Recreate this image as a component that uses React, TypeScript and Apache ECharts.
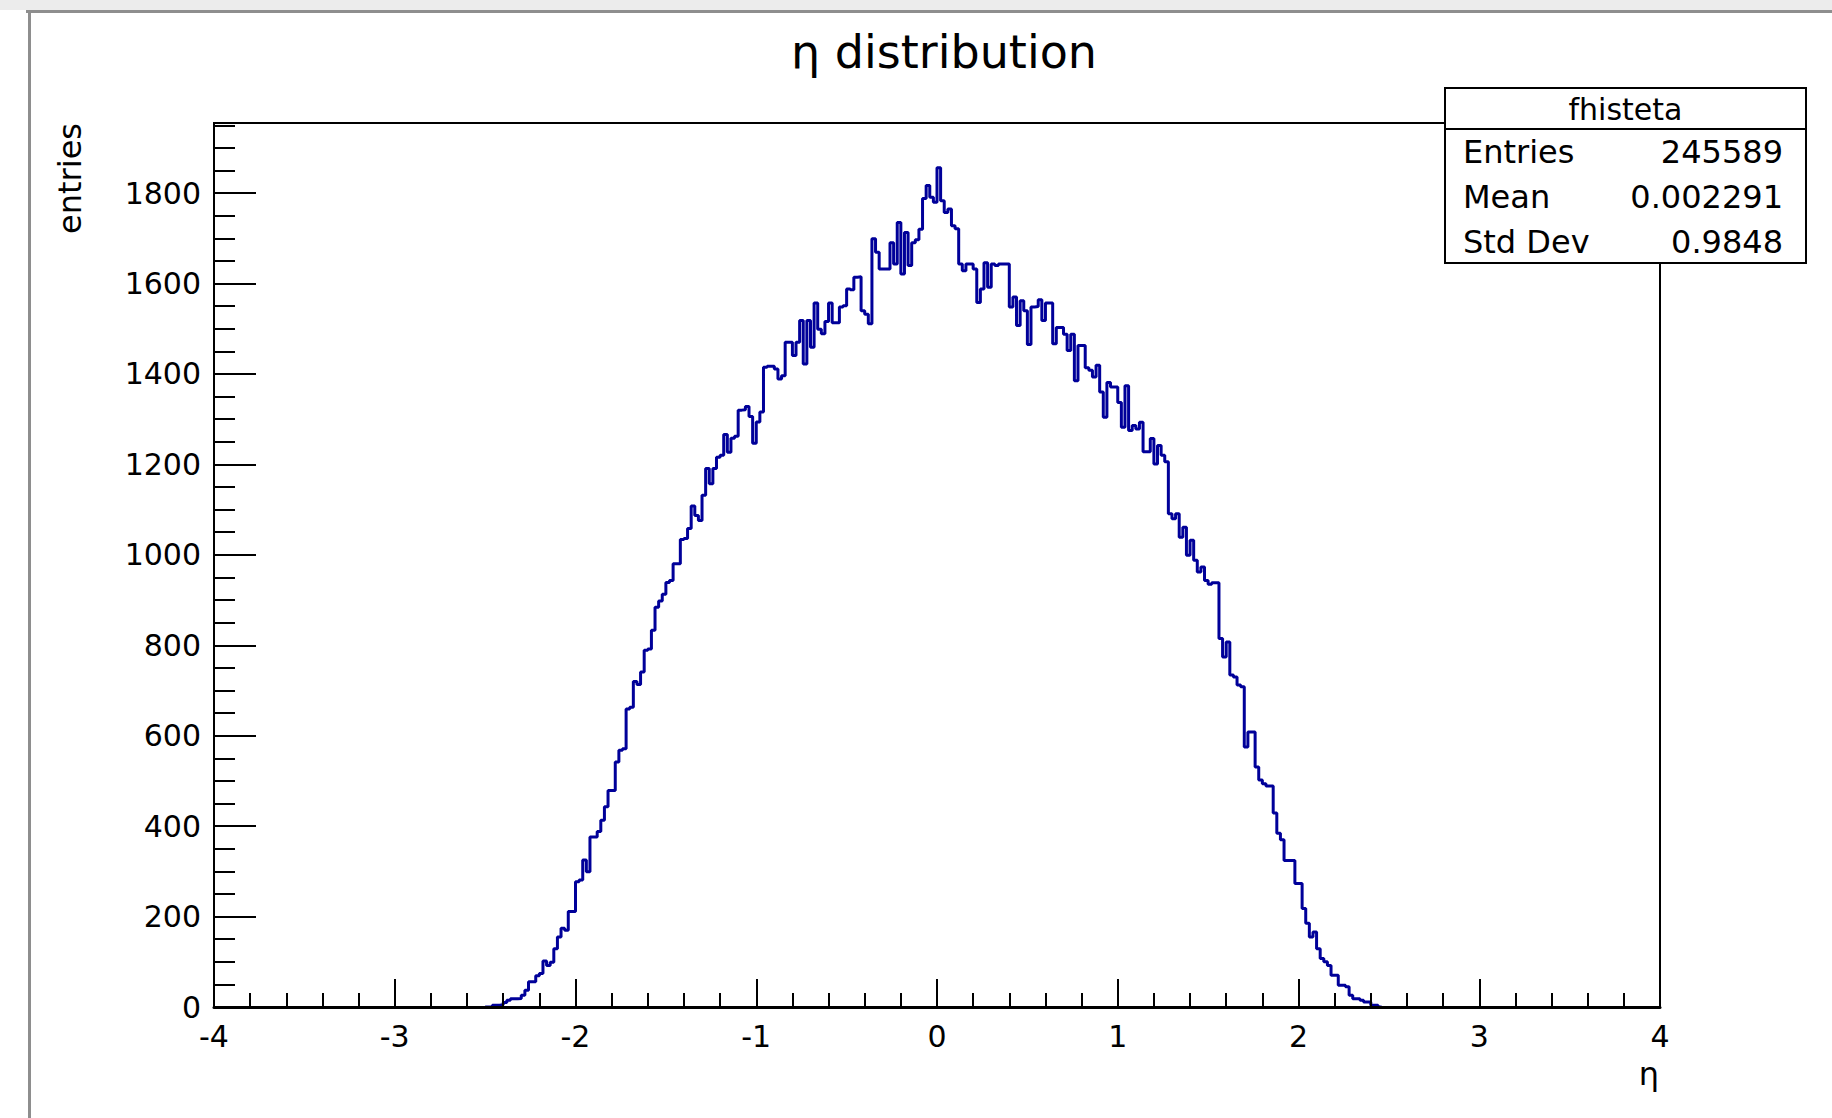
import React, { useEffect, useRef } from "react";
import * as echarts from "echarts";

const TITLE = "η distribution";
const X_TITLE = "η";
const Y_TITLE = "entries";
const HIST_NAME = "fhisteta";
const STATS_LABELS = ["Entries", "Mean", "Std Dev"];
const STATS_VALUES = ["245589", "0.002291", "0.9848"];

const X_MIN = -4;
const X_MAX = 4;
const Y_MAX = 1955;
const BIN_START = -2.5;
const BIN_WIDTH = 0.02;

// bin contents from eta = -2.50 upward, 0.02 per bin
const COUNTS = [
  0, 0, 4, 4, 5, 10, 15, 18, 18, 19,
  26, 37, 56, 56, 69, 74, 102, 92, 99, 129,
  155, 174, 170, 211, 211, 277, 281, 325, 299, 376,
  376, 388, 413, 443, 479, 479, 542, 568, 571, 659,
  663, 720, 713, 741, 789, 792, 833, 884, 898, 913,
  939, 943, 980, 980, 1034, 1036, 1058, 1108, 1087, 1076,
  1132, 1191, 1157, 1191, 1216, 1220, 1266, 1227, 1258, 1262,
  1320, 1321, 1328, 1306, 1247, 1294, 1316, 1415, 1417, 1417,
  1411, 1389, 1396, 1470, 1470, 1441, 1470, 1518, 1422, 1518,
  1459, 1557, 1499, 1489, 1516, 1557, 1513, 1513, 1548, 1551,
  1588, 1586, 1614, 1615, 1540, 1532, 1511, 1699, 1669, 1632,
  1632, 1632, 1690, 1643, 1735, 1621, 1713, 1640, 1690, 1697,
  1720, 1788, 1817, 1791, 1780, 1856, 1783, 1757, 1765, 1728,
  1721, 1643, 1628, 1643, 1643, 1632, 1558, 1588, 1646, 1592,
  1643, 1640, 1643, 1643, 1643, 1548, 1570, 1507, 1562, 1540,
  1465, 1548, 1549, 1564, 1518, 1557, 1557, 1467, 1503, 1503,
  1488, 1452, 1488, 1385, 1463, 1463, 1414, 1408, 1393, 1419,
  1360, 1304, 1381, 1371, 1371, 1337, 1282, 1374, 1275, 1286,
  1278, 1293, 1228, 1228, 1257, 1201, 1242, 1220, 1206, 1091,
  1080, 1091, 1039, 1061, 999, 1032, 988, 962, 973, 943,
  935, 938, 938, 815, 774, 807, 734, 730, 712, 708,
  575, 608, 608, 531, 502, 494, 489, 489, 429, 384,
  370, 324, 324, 324, 273, 273, 218, 185, 155, 166,
  129, 107, 100, 92, 70, 70, 48, 48, 45, 26,
  18, 18, 15, 11, 11, 4, 4, 0,
];

const FONT = "DejaVu Sans";

export default function App() {
  const ref = useRef<HTMLDivElement>(null);

  useEffect(() => {
    document.body.style.margin = "0";
    const chart = echarts.init(ref.current!, null, { renderer: "svg" });

    const data: [number, number][] = COUNTS.map((v, i) => [
      +(BIN_START + i * BIN_WIDTH).toFixed(4),
      v,
    ]);
    data.push([+(BIN_START + COUNTS.length * BIN_WIDTH).toFixed(4), 0]);

    const statsX = 1445;
    const statsY = 88;
    const statsW = 361;
    const statsH = 175;
    const rowYs = [152, 197, 242];

    const graphics: any[] = [
      { type: "rect", z: 1, shape: { x: 0, y: 0, width: 1832, height: 10 }, style: { fill: "#ececec" } },
      { type: "rect", z: 1, shape: { x: 26, y: 10, width: 1806, height: 3 }, style: { fill: "#8e8e8e" } },
      { type: "rect", z: 1, shape: { x: 28, y: 10, width: 3, height: 1108 }, style: { fill: "#8e8e8e" } },
      {
        type: "text",
        z: 100,
        x: 944,
        y: 52,
        style: { text: TITLE, font: `46px "${FONT}"`, fill: "#000", align: "center", verticalAlign: "middle" },
      },
      {
        type: "text",
        z: 100,
        x: 70,
        y: 123,
        rotation: Math.PI / 2,
        style: { text: Y_TITLE, font: `32px "${FONT}"`, fill: "#000", align: "right", verticalAlign: "middle" },
      },
      {
        type: "text",
        z: 100,
        x: 1659,
        y: 1074,
        style: { text: X_TITLE, font: `32px "${FONT}"`, fill: "#000", align: "right", verticalAlign: "middle" },
      },
      {
        type: "rect",
        z: 100,
        shape: { x: statsX, y: statsY, width: statsW, height: statsH },
        style: { fill: "#fff", stroke: "#000", lineWidth: 2 },
      },
      {
        type: "line",
        z: 101,
        shape: { x1: statsX, y1: 129, x2: statsX + statsW, y2: 129 },
        style: { stroke: "#000", lineWidth: 2 },
      },
      {
        type: "text",
        z: 101,
        x: statsX + statsW / 2,
        y: 109,
        style: { text: HIST_NAME, font: `30px "${FONT}"`, fill: "#000", align: "center", verticalAlign: "middle" },
      },
    ];
    STATS_LABELS.forEach((lab, i) => {
      graphics.push({
        type: "text",
        z: 101,
        x: 1463,
        y: rowYs[i],
        style: { text: lab, font: `32px "${FONT}"`, fill: "#000", align: "left", verticalAlign: "middle" },
      });
      graphics.push({
        type: "text",
        z: 101,
        x: 1783,
        y: rowYs[i],
        style: { text: STATS_VALUES[i], font: `32px "${FONT}"`, fill: "#000", align: "right", verticalAlign: "middle" },
      });
    });

    const tickStyle = { color: "#000", width: 2 };

    chart.setOption({
      animation: false,
      backgroundColor: "#fff",
      grid: {
        left: 214,
        top: 123,
        width: 1446,
        height: 884,
        show: true,
        borderColor: "#000",
        borderWidth: 2,
        backgroundColor: "transparent",
      },
      xAxis: {
        type: "value",
        min: X_MIN,
        max: X_MAX,
        interval: 1,
        position: "bottom",
        z: 5,
        axisLine: { show: true, onZero: false, lineStyle: { color: "#000", width: 3 } },
        axisTick: { show: true, inside: true, length: 28, lineStyle: tickStyle },
        minorTick: { show: true, splitNumber: 5, length: 14, lineStyle: tickStyle },
        splitLine: { show: false },
        minorSplitLine: { show: false },
        axisLabel: { margin: 14, fontSize: 30, fontFamily: FONT, color: "#000" },
      },
      yAxis: [
        {
          type: "value",
          min: 0,
          max: Y_MAX,
          interval: 200,
          position: "left",
          z: 5,
          axisLine: { show: true, onZero: false, lineStyle: { color: "#000", width: 2 } },
          axisTick: { show: true, inside: true, length: 42, lineStyle: tickStyle },
          splitLine: { show: false },
          axisLabel: {
            margin: 13,
            fontSize: 30,
            fontFamily: FONT,
            color: "#000",
            formatter: (v: number) => (v % 200 === 0 ? String(v) : ""),
          },
        },
        {
          type: "value",
          min: 0,
          max: Y_MAX,
          interval: 50,
          position: "left",
          offset: 0,
          z: 5,
          axisLine: { show: false, onZero: false },
          axisTick: { show: true, inside: true, length: 21, lineStyle: tickStyle },
          splitLine: { show: false },
          axisLabel: { show: false },
        },
      ],
      series: [
        {
          type: "line",
          name: HIST_NAME,
          step: "end",
          data,
          yAxisIndex: 0,
          showSymbol: false,
          symbol: "none",
          lineStyle: { color: "#000099", width: 3 },
          z: 3,
        },
      ],
      graphic: graphics,
    });

    return () => chart.dispose();
  }, []);

  return (
    <div
      ref={ref}
      style={{ position: "absolute", left: 0, top: 0, width: 1832, height: 1118, background: "#fff" }}
    />
  );
}
